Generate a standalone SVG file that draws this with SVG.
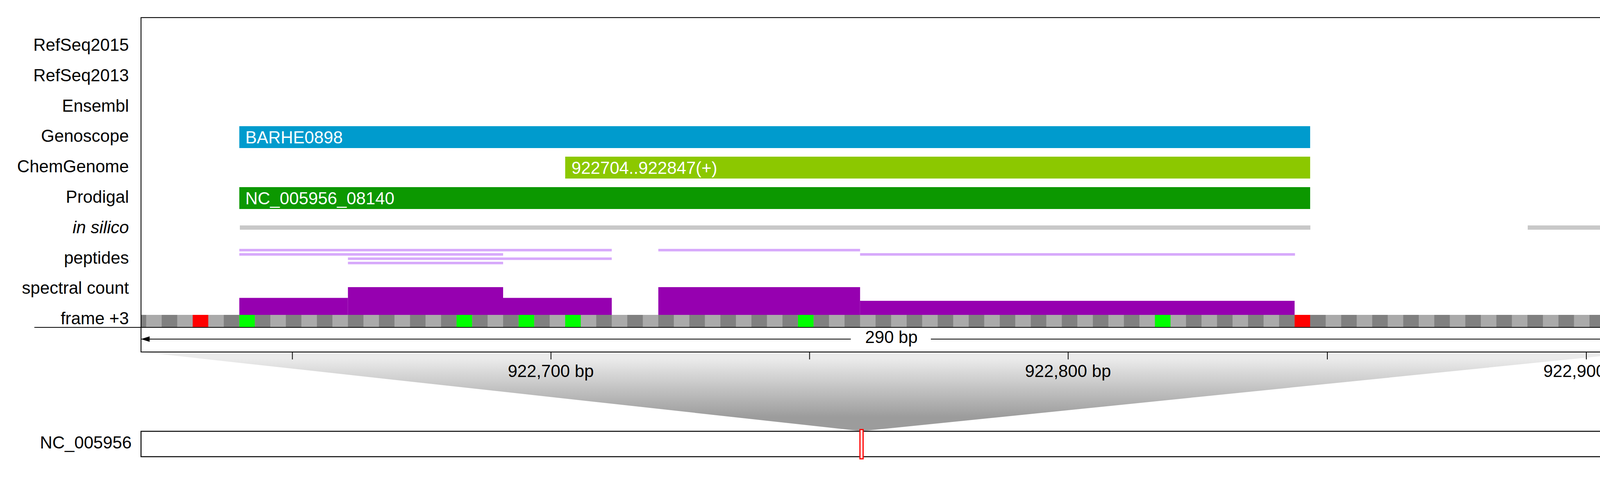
<svg xmlns="http://www.w3.org/2000/svg" width="4252" height="1221" viewBox="0 0 4252 1221">
<defs>
<style>
text{font-family:"Liberation Sans",Arial,"DejaVu Sans",sans-serif;font-size:44px;fill:#000}
.lbl{text-anchor:end}
.gtxt{fill:#fff}
.pep{fill:#d7a9fb}
.sc{fill:#9600b0}
.ins{fill:#c8c8c8}
.tick{stroke:#000;stroke-width:2}
.grn{fill:#00ff00}
.red{fill:#ff0000}
</style>
<pattern id="codons" patternUnits="userSpaceOnUse" x="374.2" y="806" width="79.46" height="31">
<rect x="0" y="0" width="39.73" height="31" fill="#aaaaaa"/>
<rect x="39.73" y="0" width="39.73" height="31" fill="#808080"/>
</pattern>
<linearGradient id="zoomgrad" gradientUnits="userSpaceOnUse" x1="0" y1="918" x2="0" y2="1068">
<stop offset="0" stop-color="#ebebeb"/>
<stop offset="1" stop-color="#9c9c9c"/>
</linearGradient>
<marker id="arr" markerWidth="22" markerHeight="14" refX="21" refY="7" orient="auto-start-reverse" markerUnits="userSpaceOnUse">
<path d="M0,0 L22,7 L0,14 Z" fill="#000"/>
</marker>
</defs>
<rect width="4252" height="1221" fill="#fff"/>

<g id="track-labels">
<text class="lbl" x="330" y="130">RefSeq2015</text>
<text class="lbl" x="330" y="208">RefSeq2013</text>
<text class="lbl" x="330" y="286">Ensembl</text>
<text class="lbl" x="330" y="363">Genoscope</text>
<text class="lbl" x="330" y="441">ChemGenome</text>
<text class="lbl" x="330" y="519">Prodigal</text>
<text class="lbl" x="330" y="597" font-style="italic">in silico</text>
<text class="lbl" x="330" y="675">peptides</text>
<text class="lbl" x="330" y="752">spectral count</text>
<text class="lbl" x="330" y="830">frame +3</text>
</g>

<g id="zoom-wedge">
<polygon points="361,901 4203,901 2211,1103 2200,1103" fill="url(#zoomgrad)"/>
</g>

<g id="genoscope">
<rect x="612.6" y="323" width="2741.4" height="56" fill="#009bcd"/>
<text class="gtxt" x="628" y="367">BARHE0898</text>
</g>
<g id="chemgenome">
<rect x="1446.9" y="401" width="1907.1" height="56" fill="#8cc800"/>
<text class="gtxt" x="1463" y="445">922704..922847(+)</text>
</g>
<g id="prodigal">
<rect x="612.6" y="479" width="2741.4" height="56" fill="#0c9800"/>
<text class="gtxt" x="628" y="523">NC_005956_08140</text>
</g>

<g id="in-silico">
<rect class="ins" x="614" y="577" width="2740.5" height="11"/>
<rect class="ins" x="3911" y="577" width="292" height="11"/>
</g>

<g id="peptides">
<rect class="pep" x="612.6" y="637" width="953.5" height="6.5"/>
<rect class="pep" x="1685.3" y="637" width="516.5" height="6.5"/>
<rect class="pep" x="612.6" y="648" width="675.4" height="6.5"/>
<rect class="pep" x="2201.8" y="648" width="1113.4" height="6.5"/>
<rect class="pep" x="890.7" y="659" width="675.4" height="6.5"/>
<rect class="pep" x="890.7" y="670" width="397.3" height="6.5"/>
</g>

<g id="spectral-count">
<rect class="sc" x="612.6" y="762.5" width="278.1" height="43.5"/>
<rect class="sc" x="890.7" y="735" width="397.3" height="71"/>
<rect class="sc" x="1288" y="762.5" width="278.1" height="43.5"/>
<rect class="sc" x="1685.3" y="735" width="516.5" height="71"/>
<rect class="sc" x="2201.8" y="770" width="1112.4" height="36"/>
</g>

<g id="frame-plus3">
<rect x="361" y="806" width="3842" height="31" fill="url(#codons)"/>
<rect class="red" x="493.4" y="806" width="39.73" height="31"/>
<rect class="grn" x="612.6" y="806" width="39.73" height="31"/>
<rect class="grn" x="1168.8" y="806" width="39.73" height="31"/>
<rect class="grn" x="1327.7" y="806" width="39.73" height="31"/>
<rect class="grn" x="1446.9" y="806" width="39.73" height="31"/>
<rect class="grn" x="2042.9" y="806" width="39.73" height="31"/>
<rect class="grn" x="2956.7" y="806" width="39.73" height="31"/>
<rect class="red" x="3314.2" y="806" width="39.73" height="31"/>
<line x1="88" y1="838" x2="4203" y2="838" stroke="#000" stroke-width="2.2"/>
</g>

<g id="scale-bar">
<line x1="362" y1="868" x2="2178" y2="868" stroke="#000" stroke-width="2.2" marker-start="url(#arr)"/>
<line x1="2383" y1="868" x2="4202" y2="868" stroke="#000" stroke-width="2.2" marker-end="url(#arr)"/>
<text x="2282" y="878" text-anchor="middle">290 bp</text>
</g>

<g id="view-frame">
<rect x="361" y="45" width="3842" height="856" fill="none" stroke="#000" stroke-width="2.2"/>
</g>

<g id="axis">
<line class="tick" x1="748.5" y1="901" x2="748.5" y2="920"/>
<line class="tick" x1="1410.5" y1="901" x2="1410.5" y2="920"/>
<line class="tick" x1="2072.5" y1="901" x2="2072.5" y2="920"/>
<line class="tick" x1="2734.5" y1="901" x2="2734.5" y2="920"/>
<line class="tick" x1="3398" y1="901" x2="3398" y2="920"/>
<line class="tick" x1="4061" y1="901" x2="4061" y2="920"/>
<text x="1410" y="965" text-anchor="middle">922,700 bp</text>
<text x="2734" y="965" text-anchor="middle">922,800 bp</text>
<text x="4061" y="965" text-anchor="middle">922,900 bp</text>
</g>

<g id="chromosome">
<text class="lbl" x="337" y="1148">NC_005956</text>
<rect x="361" y="1104" width="3842" height="65" fill="#fff" stroke="#000" stroke-width="2.5"/>
<rect x="2201.5" y="1099.5" width="8" height="75" fill="#fff" stroke="#ff0000" stroke-width="3"/>
</g>
</svg>
